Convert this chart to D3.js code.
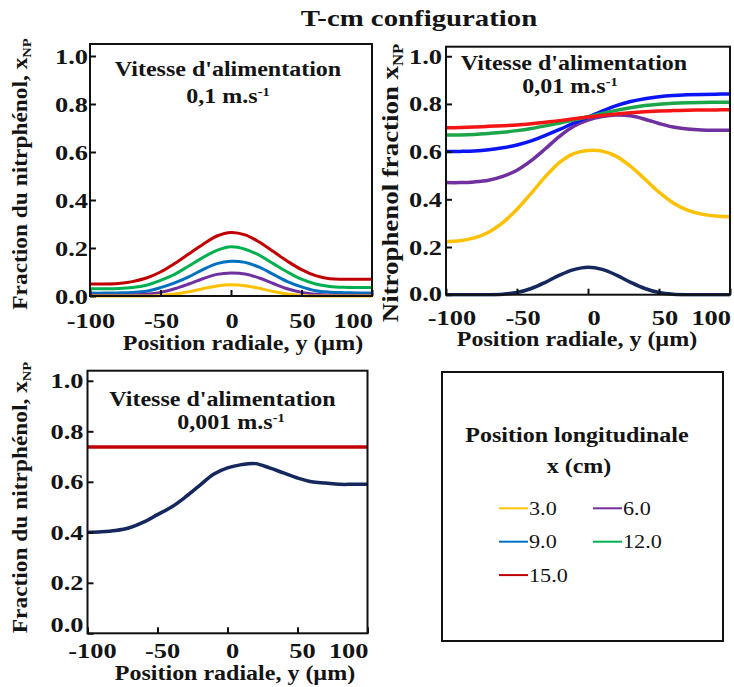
<!DOCTYPE html>
<html><head><meta charset="utf-8">
<script src="https://cdn.jsdelivr.net/npm/d3@7"></script>
<style>
body{margin:0;background:#fff}
svg{display:block}
text{font-family:"Liberation Serif","Times New Roman",serif;fill:#141414}
</style>
</head><body>
<svg id="chart" width="734" height="687"></svg>
<script>
// ---------------- DATA ----------------
const radialPositions = [-100,-90,-80,-70,-60,-50,-40,-30,-20,-10,0,10,20,30,40,50,60,70,80,90,100];
const xTickValues = [-100,-50,0,50,100];
const yTickValues = [0.0,0.2,0.4,0.6,0.8,1.0];
const legendLabels = ["3.0","6.0","9.0","12.0","15.0"];

// Panel A : feed velocity 0,1 m/s
const velA_x3  = [0,0,0,0,0,0.002,0.008,0.018,0.03,0.042,0.047,0.043,0.032,0.019,0.008,0.002,0,0,0,0,0];
const velA_x6  = [0.003,0.003,0.003,0.004,0.008,0.015,0.03,0.05,0.072,0.09,0.096,0.092,0.075,0.052,0.03,0.015,0.007,0.004,0.003,0.003,0.003];
const velA_x9  = [0.012,0.012,0.013,0.015,0.02,0.035,0.055,0.08,0.11,0.135,0.145,0.14,0.12,0.09,0.06,0.038,0.022,0.016,0.014,0.013,0.013];
const velA_x12 = [0.03,0.03,0.031,0.035,0.045,0.065,0.09,0.125,0.16,0.19,0.205,0.195,0.17,0.135,0.1,0.07,0.05,0.04,0.036,0.035,0.035];
const velA_x15 = [0.05,0.05,0.052,0.06,0.075,0.1,0.135,0.175,0.215,0.25,0.265,0.255,0.225,0.185,0.145,0.11,0.085,0.072,0.07,0.07,0.07];

// Panel B : feed velocity 0,01 m/s
const velB_low = [0,0,0,0,0.002,0.009,0.026,0.052,0.082,0.105,0.115,0.106,0.082,0.052,0.026,0.009,0.002,0,0,0,0];
const velB_x3  = [0.222,0.226,0.238,0.262,0.302,0.358,0.425,0.495,0.555,0.592,0.605,0.602,0.58,0.538,0.485,0.43,0.385,0.355,0.338,0.33,0.327];
const velB_x6  = [0.47,0.47,0.473,0.48,0.496,0.522,0.562,0.612,0.664,0.706,0.732,0.747,0.754,0.75,0.736,0.718,0.703,0.695,0.691,0.69,0.69];
const velB_x9  = [0.6,0.601,0.603,0.608,0.616,0.628,0.645,0.668,0.693,0.72,0.745,0.77,0.793,0.81,0.822,0.83,0.835,0.838,0.84,0.841,0.842];
const velB_x12 = [0.67,0.67,0.672,0.676,0.681,0.688,0.697,0.708,0.72,0.733,0.746,0.76,0.773,0.784,0.793,0.799,0.803,0.805,0.806,0.807,0.807];
const velB_x15 = [0.7,0.701,0.703,0.706,0.709,0.712,0.717,0.723,0.73,0.738,0.745,0.752,0.758,0.763,0.767,0.77,0.772,0.774,0.775,0.775,0.776];

// Panel C : feed velocity 0,001 m/s
const velC_low = [0.4,0.402,0.407,0.418,0.44,0.47,0.5,0.54,0.585,0.63,0.655,0.668,0.672,0.655,0.635,0.615,0.6,0.595,0.59,0.59,0.59];
const velC_x15 = [0.738,0.738,0.738,0.738,0.738,0.738,0.738,0.738,0.738,0.738,0.738,0.738,0.738,0.738,0.738,0.738,0.738,0.738,0.738,0.738,0.738];

// ---------------- DRAW ----------------
const svg = d3.select("#chart");
svg.append("rect").attr("width",734).attr("height",687).attr("fill","#fff");
const SX = 1.2;

function stext(g, x, y, anchor, size, weight){
  return g.append("text")
    .attr("transform",`translate(${x},${y}) scale(${SX},1)`)
    .attr("text-anchor",anchor)
    .style("font-size",size+"px")
    .style("font-weight",weight);
}

function vlabel(g, x, y, main, size, sc){
  const t = g.append("text")
    .attr("transform",`translate(${x},${y}) rotate(-90) scale(${sc},1)`)
    .attr("text-anchor","middle")
    .style("font-size",size+"px").style("font-weight","bold");
  t.append("tspan").text(main);
  t.append("tspan").text("NP").style("font-size",(size*0.62)+"px").attr("dy",size*0.2);
}

function panel(cfg){
  const g = svg.append("g");
  const x = d3.scaleLinear().domain([-100,100]).range([cfg.x0,cfg.x1]);
  const y = d3.scaleLinear().domain([0,cfg.ytop]).range([cfg.y1,cfg.y0]);

  const clipId = "clip"+Math.round(cfg.x0);
  svg.append("clipPath").attr("id",clipId).append("rect")
    .attr("x",cfg.x0).attr("y",cfg.y0).attr("width",cfg.x1-cfg.x0).attr("height",cfg.y1-cfg.y0+2);

  // series
  const line = d3.line().x((d,i)=>x(radialPositions[i])).y(d=>y(d)).curve(d3.curveCatmullRom.alpha(0.5));
  const sg = g.append("g").attr("clip-path",`url(#${clipId})`);
  cfg.series.forEach(s=>{
    sg.append("path").datum(s.values).attr("d",line)
      .attr("fill","none").attr("stroke",s.color).attr("stroke-width",cfg.lw)
      .attr("stroke-linejoin","round");
  });

  // inward ticks via axes
  const ya = d3.axisLeft(y).tickValues(yTickValues).tickSize(-6).tickFormat("");
  const xa = d3.axisBottom(x).tickValues(xTickValues).tickSize(-6).tickFormat("");
  g.append("g").attr("transform",`translate(${cfg.x0},0)`).call(ya)
    .call(a=>{a.select(".domain").remove(); a.selectAll("line").attr("stroke","#111").attr("stroke-width",2);});
  g.append("g").attr("transform",`translate(0,${cfg.y1})`).call(xa)
    .call(a=>{a.select(".domain").remove(); a.selectAll("line").attr("stroke","#111").attr("stroke-width",2);});

  // frame
  g.append("rect").attr("x",cfg.x0).attr("y",cfg.y0)
    .attr("width",cfg.x1-cfg.x0).attr("height",cfg.y1-cfg.y0)
    .attr("fill","none").attr("stroke","#111").attr("stroke-width",2);

  // tick labels
  yTickValues.forEach((v,i)=>{
    const lift = (i===0) ? cfg.zeroLift : 0;
    stext(g, cfg.x0-cfg.ypad, y(v)+7.5-lift, "end", 22, "bold").text(v.toFixed(1));
  });
  xTickValues.forEach((v,i)=>{
    const last = i===xTickValues.length-1;
    stext(g, last ? cfg.x1+1 : x(v)+cfg.xdx, cfg.y1+cfg.xlab, last?"end":"middle", 22, "bold").text(String(v));
  });

  // axis titles
  stext(g, cfg.xtc, cfg.xtb, "middle", 20, "bold").text("Position radiale, y (\u00b5m)");
  vlabel(g, cfg.ylx, cfg.yly, cfg.ylabel, cfg.ylsize, cfg.ylsc);

  // annotation
  stext(g, cfg.a1x, cfg.a1y, "middle", 20, "bold").text("Vitesse d'alimentation");
  const t2 = stext(g, cfg.a2x, cfg.a2y, "middle", 20, "bold");
  t2.append("tspan").text(cfg.speed+" m.s");
  t2.append("tspan").text("-1").style("font-size","12px").attr("dy",-7);
}

const C = {yellow:"#ffc000", purple:"#7030a0", blue:"#0070c0", green:"#00b050", red:"#c00000", navy:"#14285e"};

panel({x0:90,x1:372,y0:44,y1:296,ytop:1.05,lw:3,ypad:2,xdx:1,xlab:32,zeroLift:0,
  xtc:243,xtb:350,ylx:26.5,yly:174,ylabel:"Fraction du nitrph\u00e9nol, x",ylsize:20,ylsc:1.17,
  a1x:228,a1y:76,a2x:228,a2y:103,speed:"0,1",
  series:[
    {values:velA_x15,color:C.red},
    {values:velA_x12,color:C.green},
    {values:velA_x9,color:C.blue},
    {values:velA_x6,color:C.purple},
    {values:velA_x3,color:C.yellow}
  ]});

panel({x0:446,x1:730,y0:46.7,y1:294.7,ytop:1.04,lw:3.5,ypad:4,xdx:6,xlab:30,zeroLift:1.5,
  xtc:577,xtb:346,ylx:398,yly:183,ylabel:"Nitrophenol fraction x",ylsize:24,ylsc:1.12,
  a1x:574,a1y:70,a2x:570,a2y:93,speed:"0,01",
  series:[
    {values:velB_low,color:C.navy},
    {values:velB_x3,color:"#ffc000"},
    {values:velB_x6,color:"#7030a0"},
    {values:velB_x9,color:"#0a14f5"},
    {values:velB_x12,color:"#1ca64a"},
    {values:velB_x15,color:"#f51414"}
  ]});

panel({x0:87.5,x1:367.5,y0:370.7,y1:633.3,ytop:1.04,lw:3.5,ypad:4,xdx:5,xlab:25,zeroLift:8.5,
  xtc:235,xtb:680,ylx:26.5,yly:497.5,ylabel:"Fraction du nitrph\u00e9nol, x",ylsize:20,ylsc:1.17,
  a1x:222.5,a1y:406,a2x:231,a2y:429,speed:"0,001",
  series:[
    {values:velC_x15,color:C.red},
    {values:velC_low,color:C.navy}
  ]});

// title
stext(svg, 419, 26, "middle", 24, "bold").text("T-cm configuration");

// legend
const lg = svg.append("g");
lg.append("rect").attr("x",442).attr("y",372).attr("width",281).attr("height",269)
  .attr("fill","none").attr("stroke","#111").attr("stroke-width",2);
stext(lg, 577, 441.5, "middle", 20, "bold").text("Position longitudinale");
stext(lg, 579, 473, "middle", 20, "bold").text("x (cm)");
const legendColors = [C.yellow, C.purple, C.blue, C.green, C.red];
legendLabels.forEach((lab,i)=>{
  const col = i%2, row = Math.floor(i/2);
  const lx = col===0 ? 499 : 593;
  const ly = 508.3 + row*33.4;
  lg.append("line").attr("x1",lx).attr("x2",lx+29).attr("y1",ly).attr("y2",ly)
    .attr("stroke",legendColors[i]).attr("stroke-width",2);
  stext(lg, lx+30, ly+6.7, "start", 18.5, "normal").text(lab);
});
</script>
</body></html>
